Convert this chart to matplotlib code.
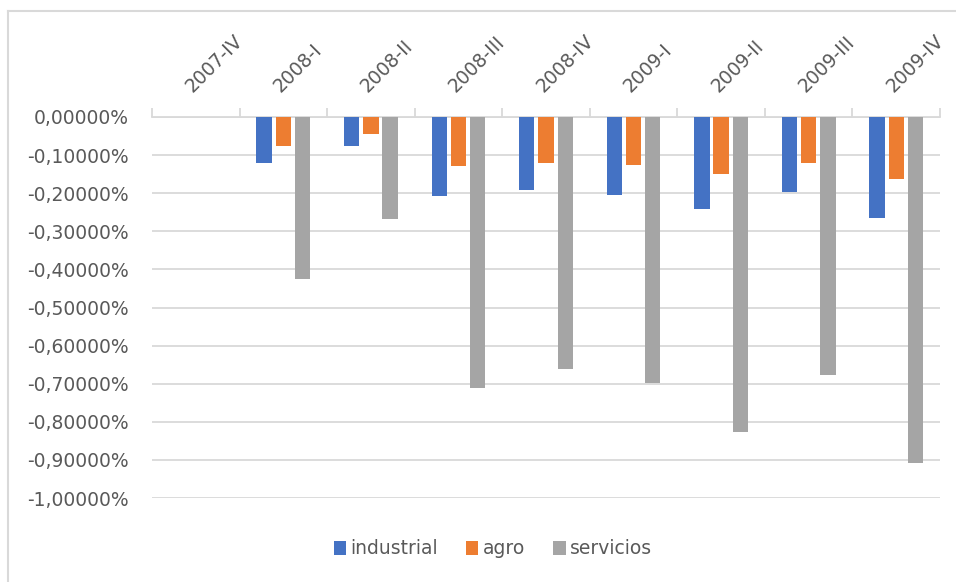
import numpy as np
import matplotlib
matplotlib.use('Agg')
import matplotlib.pyplot as plt
from matplotlib.lines import Line2D
from matplotlib.patches import Patch
from matplotlib.ticker import FixedLocator, FuncFormatter

categories = ['2007-IV', '2008-I', '2008-II', '2008-III', '2008-IV',
              '2009-I', '2009-II', '2009-III', '2009-IV']
industrial = [np.nan, -0.122, -0.076, -0.208, -0.191, -0.205, -0.241, -0.198, -0.264]
agro = [np.nan, -0.076, -0.045, -0.129, -0.120, -0.127, -0.150, -0.120, -0.164]
servicios = [np.nan, -0.426, -0.268, -0.712, -0.661, -0.697, -0.828, -0.676, -0.908]
series_names = ['industrial', 'agro', 'servicios']
yticks = [0.0, -0.1, -0.2, -0.3, -0.4, -0.5, -0.6, -0.7, -0.8, -0.9, -1.0]

colors = ['#4472C4', '#ED7D31', '#A5A5A5']
text_color = '#595959'
grid_color = '#d9d9d9'
W, H = 956, 582

plt.rcParams['font.family'] = ['DejaVu Sans']

fig = plt.figure(figsize=(W / 100, H / 100), dpi=100)
ax = fig.add_axes([152 / W, 1 - 498 / H, (940 - 152) / W, (498 - 117) / H])

x = np.arange(len(categories))
bw = 0.175
offsets = [-0.22, 0.0, 0.22]
for vals, off, c, name in zip([industrial, agro, servicios], offsets, colors, series_names):
    ax.bar(x + off, vals, bw, color=c, label=name, linewidth=0, zorder=3)

ax.set_xlim(-0.5, len(categories) - 0.5)
ax.set_ylim(-1.0, 0.0)


def fmt(v, pos):
    if abs(v) < 1e-12:
        v = 0.0
    return f"{v:.5f}%".replace('.', ',')


ax.yaxis.set_major_locator(FixedLocator(yticks))
ax.yaxis.set_major_formatter(FuncFormatter(fmt))
ax.yaxis.grid(True, color=grid_color, lw=1.3, zorder=0)
ax.set_axisbelow(True)
ax.tick_params(axis='y', length=0, pad=17, labelsize=13.5, labelcolor=text_color)

for s in ['left', 'right', 'bottom']:
    ax.spines[s].set_visible(False)
ax.spines['top'].set_color(grid_color)
ax.spines['top'].set_linewidth(1.3)

ax.xaxis.tick_top()
ax.set_xticks(np.arange(-0.5, len(categories), 1.0))
ax.set_xticklabels([])
ax.set_xticks(x, minor=True)
ax.set_xticklabels(categories, minor=True, rotation=45, ha='left', va='bottom',
                   rotation_mode='anchor')
ax.tick_params(axis='x', which='major', length=6.5, width=1.3, color=grid_color,
               direction='out', top=True, bottom=False)
ax.tick_params(axis='x', which='minor', length=0, pad=15, labelsize=13.5,
               labelcolor=text_color, top=True, bottom=False,
               labeltop=True, labelbottom=False)

handles = [Patch(facecolor=c, edgecolor='none') for c in colors]
fig.legend(handles, series_names, loc='center', bbox_to_anchor=(493 / W, 1 - 549 / H),
           ncol=3, frameon=False, fontsize=13.5, handlelength=0.65, handleheight=0.75,
           handletextpad=0.25, columnspacing=1.5, labelcolor=text_color)

fig.add_artist(Line2D([8 / W, 8 / W], [0, 1 - 10.5 / H], transform=fig.transFigure,
                      color=grid_color, lw=1.5))
fig.add_artist(Line2D([8 / W, 1], [1 - 10.5 / H, 1 - 10.5 / H], transform=fig.transFigure,
                      color=grid_color, lw=1.5))

fig.savefig('out.png', dpi=100)
